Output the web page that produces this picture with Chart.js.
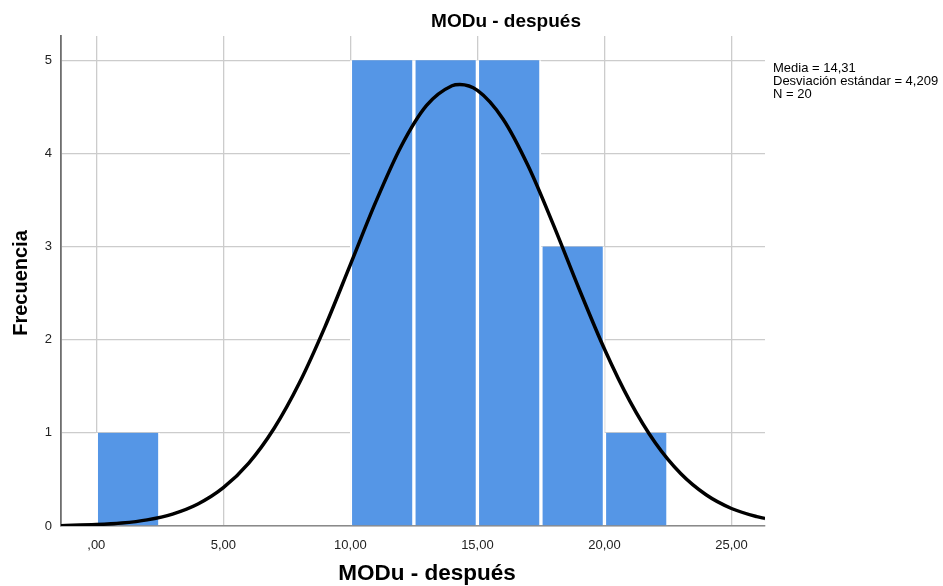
<!DOCTYPE html>
<html>
<head>
<meta charset="utf-8">
<script src="https://cdn.jsdelivr.net/npm/chart.js@4/dist/chart.umd.min.js"></script>
<style>
  html, body { margin:0; padding:0; background:#fff; }
  #wrap { width:943px; height:586px; position:relative; }
</style>
</head>
<body>
<div id="wrap"><canvas id="histChart"></canvas></div>
<script>
// histogram bins (centre of each 2,5-wide bin) and counts
const binCenters = [1.25, 11.25, 13.75, 16.25, 18.75, 21.25];
const binCounts  = [1, 5, 5, 5, 3, 1];

// normal curve
const curveX = [-1.39, 0, 1, 2, 3, 4, 5, 6, 7, 8, 9, 10, 11, 12, 13, 14, 14.31, 15, 16, 17, 18, 19, 20, 21, 22, 23, 24, 25, 26, 26.32];
const curveY = [0.004, 0.015, 0.032, 0.066, 0.128, 0.236, 0.411, 0.675, 1.049, 1.54, 2.138, 2.806, 3.479, 4.077, 4.515, 4.726, 4.739, 4.676, 4.372, 3.864, 3.227, 2.547, 1.9, 1.34, 0.893, 0.563, 0.335, 0.188, 0.1, 0.081];

const xTicks = [0, 5, 10, 15, 20, 25];
const yTicks = [0, 1, 2, 3, 4, 5];
const statsLines = ["Media = 14,31", "Desviación estándar = 4,209", "N = 20"];
const chartTitle = "MODu - después";
const xTitle = "MODu - después";
const yTitle = "Frecuencia";

const fontFam = "'Liberation Sans', Arial, sans-serif";
const gridColor = "#cccccc";

const textPlugin = {
    id: "texts",
    afterDraw(chart){
        const ctx = chart.ctx;
        ctx.save();
        ctx.fillStyle = "#000";
        ctx.textAlign = "center";
        ctx.textBaseline = "alphabetic";
        ctx.font = "bold 19px " + fontFam;
        ctx.fillText(chartTitle, 506, 27);
        ctx.font = "bold 22.5px " + fontFam;
        ctx.fillText(xTitle, 427, 580);
        ctx.translate(27, 283);
        ctx.rotate(-Math.PI/2);
        ctx.font = "bold 20px " + fontFam;
        ctx.fillText(yTitle, 0, 0);
        ctx.restore();

        ctx.save();
        ctx.fillStyle = "#000";
        ctx.font = "13px " + fontFam;
        ctx.textAlign = "left";
        ctx.textBaseline = "middle";
        statsLines.forEach((s,i)=>ctx.fillText(s, 773, 68 + i*13));
        ctx.restore();
    }
};

const fmtX = v => v === 0 ? ",00" : v.toFixed(2).replace(".", ",");

new Chart(document.getElementById("histChart"), {
    data: {
        datasets: [
            {
                type: "line",
                data: curveX.map((x,i)=>({x:x, y:curveY[i]})),
                borderColor: "#000",
                borderWidth: 3.5,
                pointRadius: 0,
                fill: false,
                cubicInterpolationMode: "monotone",
                order: 0
            },
            {
                type: "bar",
                data: binCenters.map((x,i)=>({x:x, y:binCounts[i]})),
                backgroundColor: "#5596e6",
                borderColor: "#ffffff",
                borderWidth: { left:2, right:2, top:0, bottom:0 },
                borderSkipped: false,
                barPercentage: 1,
                categoryPercentage: 1,
                order: 1
            }
        ]
    },
    options: {
        responsive: true,
        maintainAspectRatio: false,
        animation: false,
        layout: { padding: { top:36, right:178, left:0, bottom:0 } },
        plugins: { legend:{ display:false }, tooltip:{ enabled:false } },
        scales: {
            x: {
                type: "linear",
                offset: false,
                min: -1.39, max: 26.32,
                afterFit: s => { s.height = 60; },
                afterBuildTicks: s => { s.ticks = xTicks.map(v=>({value:v})); },
                ticks: { color:"#222", font:{ size:13, family:fontFam }, padding:12, maxRotation:0, callback: v => fmtX(v) },
                grid: { offset:false, color: gridColor, lineWidth:1.3, drawTicks:false },
                border: { color:"#8a8a8a", width:1.5 }
            },
            y: {
                min: 0, max: 5.26,
                afterFit: s => { s.width = 61; },
                afterBuildTicks: s => { s.ticks = yTicks.map(v=>({value:v})); },
                ticks: { color:"#222", font:{ size:13, family:fontFam }, padding:9 },
                grid: { color: gridColor, lineWidth:1.3, drawTicks:false },
                border: { color:"#6e6e6e", width:1.8 }
            }
        }
    },
    plugins: [textPlugin]
});
</script>
</body>
</html>
